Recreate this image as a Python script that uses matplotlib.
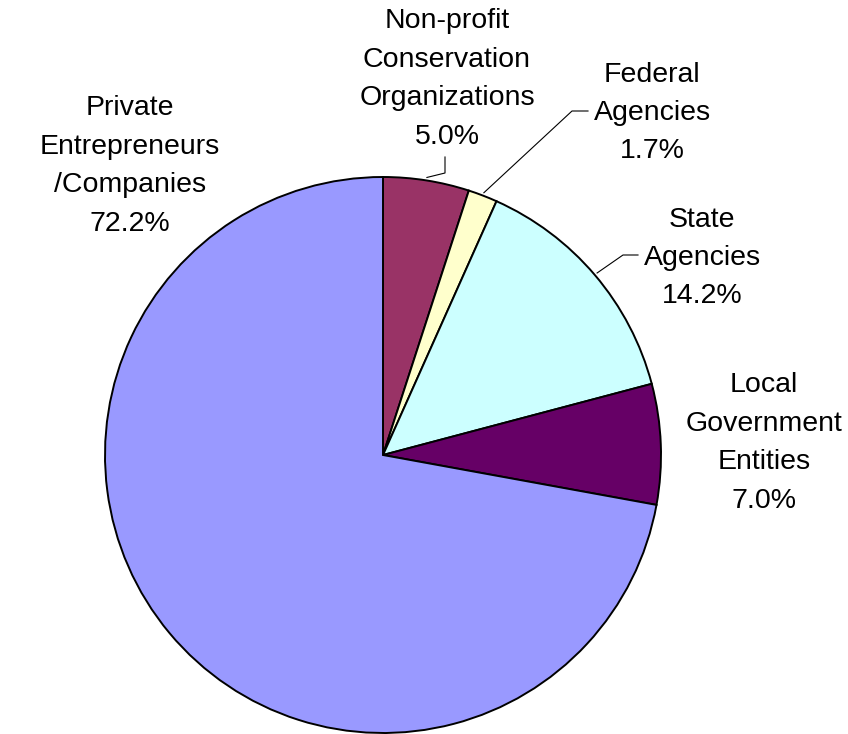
import numpy as np
import matplotlib.pyplot as plt

plt.rcParams['font.family'] = ['Liberation Sans', 'DejaVu Sans']

# data
labels = ["Non-profit\nConservation\nOrganizations", "Federal\nAgencies", "State\nAgencies",
          "Local\nGovernment\nEntities", "Private\nEntrepreneurs\n/Companies"]
shares = [5.0, 1.7, 14.2, 7.0, 72.2]
colors = ["#993366", "#FFFFCC", "#CCFFFF", "#660066", "#9999FF"]

W, H = 848, 734
fig = plt.figure(figsize=(W / 100, H / 100), dpi=100)
ax = fig.add_axes([0, 0, 1, 1])

cx, cy, R = 383, H - 455, 278
wedges, _ = ax.pie(shares, colors=colors, startangle=90, counterclock=False,
                   center=(cx, cy), radius=R, frame=True,
                   wedgeprops=dict(edgecolor='black', linewidth=1.4))
ax.set_xlim(0, W)
ax.set_ylim(0, H)
ax.set_aspect('equal')
ax.axis('off')

# label centres (pixels from top-left) and whether a leader line is drawn
label_pos = [(447, 79), (652, 113), (702, 258), (764, 443), (130, 166)]
leader = [True, True, True, False, False]

for w, lab, val, (lx, ly), ld in zip(wedges, labels, shares, label_pos, leader):
    ax.text(lx, H - ly, f"{lab}\n{val:.1f}%", ha='center', va='center',
            fontsize=20.5, linespacing=1.62, color='black')
    if ld:
        ang = np.deg2rad((w.theta1 + w.theta2) / 2)
        sx, sy = cx + (R + 3) * np.cos(ang), cy + (R + 3) * np.sin(ang)
        if lab.startswith("Non-profit"):
            pts = [(sx, sy), (lx - 2, H - 173), (lx - 2, H - 157)]
        elif lab.startswith("Federal"):
            pts = [(sx, sy), (lx - 80, H - 111), (lx - 64, H - 111)]
        else:
            pts = [(sx, sy), (lx - 79, H - 255), (lx - 64, H - 255)]
        xs, ys = zip(*pts)
        ax.plot(xs, ys, color='black', linewidth=0.8)

fig.savefig("out.png", dpi=100)
